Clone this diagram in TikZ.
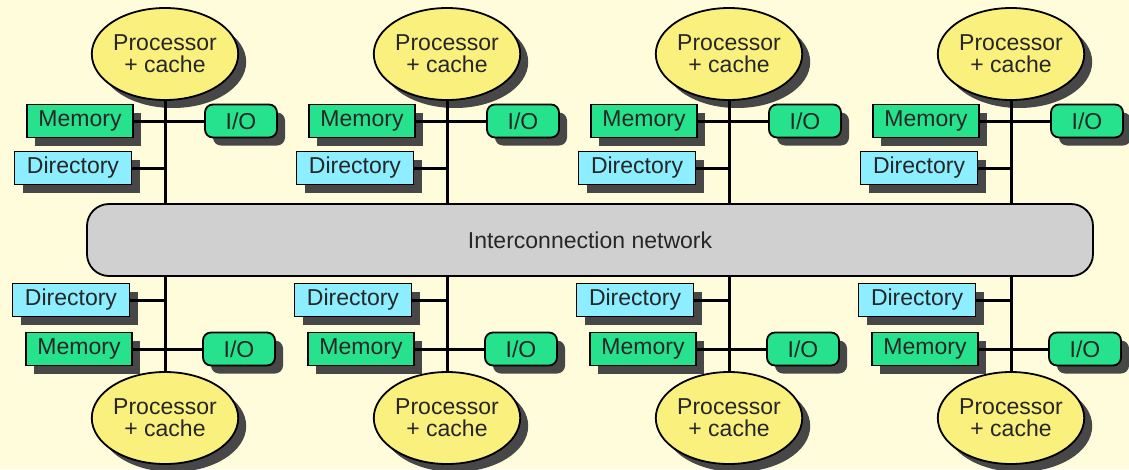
\documentclass[tikz,border=0pt]{standalone}
\usepackage{fontspec}
\setmainfont{Liberation Sans}
\usetikzlibrary{shadows,shapes.geometric}

\definecolor{paper}{RGB}{255,252,220}
\definecolor{procyellow}{RGB}{250,240,125}
\definecolor{memgreen}{RGB}{38,226,140}
\definecolor{dircyan}{RGB}{140,238,255}
\definecolor{netgray}{RGB}{208,208,208}

\tikzset{
  boxshadow/.style={drop shadow={shadow xshift=8pt,shadow yshift=-8pt,fill=black!72,opacity=1}},
  unit/.style={draw=black,line width=1.8pt,inner sep=0,text=black!85,
    font=\fontsize{23}{22}\selectfont,boxshadow},
  proc/.style={unit,ellipse,fill=procyellow,minimum width=126,minimum height=92,align=center},
  mem/.style={unit,rectangle,fill=memgreen,minimum width=106,minimum height=33},
  io/.style={unit,rectangle,rounded corners=8,fill=memgreen,minimum width=72,minimum height=33},
  dir/.style={unit,rectangle,fill=dircyan,minimum width=117,minimum height=33},
  net/.style={draw=black,line width=1.8pt,rectangle,rounded corners=22,fill=netgray,
    minimum width=1006,minimum height=72,text=black!85,font=\fontsize{23}{22}\selectfont},
  bus/.style={line width=3pt}
}

\begin{document}
\begin{tikzpicture}[x=1pt,y=-1pt]
\path[use as bounding box,fill=paper] (0,0) rectangle (1129,469);
\node[net] (net) at (590,240) {Interconnection network};
% upper nodes
\node[proc] (p1t) at (165,54) {Processor\\+ cache};
\node[mem] (m1t) at (80,121) {Memory};
\node[io] (io1t) at (241,121) {I/O};
\node[dir] (d1t) at (73,168) {Directory};
\draw[bus] (p1t) -- (p1t |- net.north);
\draw[bus] (m1t) -- (io1t);
\draw[bus] (d1t) -- (d1t -| p1t);
\node[proc] (p2t) at (447,54) {Processor\\+ cache};
\node[mem] (m2t) at (362,121) {Memory};
\node[io] (io2t) at (523,121) {I/O};
\node[dir] (d2t) at (355,168) {Directory};
\draw[bus] (p2t) -- (p2t |- net.north);
\draw[bus] (m2t) -- (io2t);
\draw[bus] (d2t) -- (d2t -| p2t);
\node[proc] (p3t) at (729,54) {Processor\\+ cache};
\node[mem] (m3t) at (644,121) {Memory};
\node[io] (io3t) at (805,121) {I/O};
\node[dir] (d3t) at (637,168) {Directory};
\draw[bus] (p3t) -- (p3t |- net.north);
\draw[bus] (m3t) -- (io3t);
\draw[bus] (d3t) -- (d3t -| p3t);
\node[proc] (p4t) at (1011,54) {Processor\\+ cache};
\node[mem] (m4t) at (926,121) {Memory};
\node[io] (io4t) at (1087,121) {I/O};
\node[dir] (d4t) at (919,168) {Directory};
\draw[bus] (p4t) -- (p4t |- net.north);
\draw[bus] (m4t) -- (io4t);
\draw[bus] (d4t) -- (d4t -| p4t);
% lower nodes
\node[proc] (p1b) at (165,418) {Processor\\+ cache};
\node[mem] (m1b) at (79,349) {Memory};
\node[io] (io1b) at (239,349) {I/O};
\node[dir] (d1b) at (71,300) {Directory};
\draw[bus] (p1b) -- (p1b |- net.south);
\draw[bus] (m1b) -- (io1b);
\draw[bus] (d1b) -- (d1b -| p1b);
\node[proc] (p2b) at (447,418) {Processor\\+ cache};
\node[mem] (m2b) at (361,349) {Memory};
\node[io] (io2b) at (521,349) {I/O};
\node[dir] (d2b) at (353,300) {Directory};
\draw[bus] (p2b) -- (p2b |- net.south);
\draw[bus] (m2b) -- (io2b);
\draw[bus] (d2b) -- (d2b -| p2b);
\node[proc] (p3b) at (729,418) {Processor\\+ cache};
\node[mem] (m3b) at (643,349) {Memory};
\node[io] (io3b) at (803,349) {I/O};
\node[dir] (d3b) at (635,300) {Directory};
\draw[bus] (p3b) -- (p3b |- net.south);
\draw[bus] (m3b) -- (io3b);
\draw[bus] (d3b) -- (d3b -| p3b);
\node[proc] (p4b) at (1011,418) {Processor\\+ cache};
\node[mem] (m4b) at (925,349) {Memory};
\node[io] (io4b) at (1085,349) {I/O};
\node[dir] (d4b) at (917,300) {Directory};
\draw[bus] (p4b) -- (p4b |- net.south);
\draw[bus] (m4b) -- (io4b);
\draw[bus] (d4b) -- (d4b -| p4b);
\end{tikzpicture}
\end{document}
